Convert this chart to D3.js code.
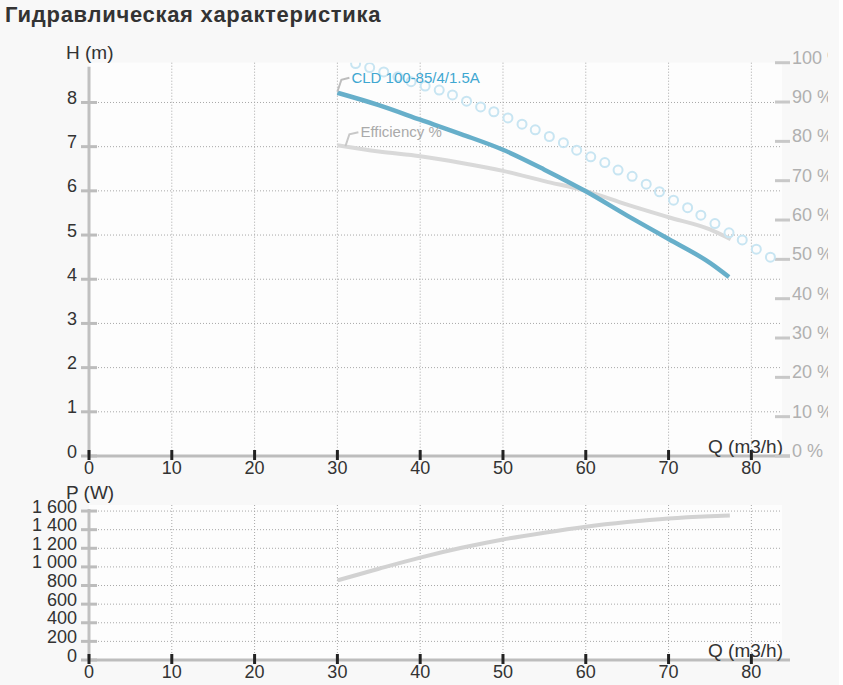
<!DOCTYPE html>
<html>
<head>
<meta charset="utf-8">
<script src="https://cdn.jsdelivr.net/npm/d3@7/dist/d3.min.js"></script>
<style>
  body { margin: 0; background: #ffffff; }
  svg { display: block; font-family: "Liberation Sans", Arial, sans-serif; }
</style>
</head>
<body>
<svg width="843" height="685"></svg>
<script>
(function (d3) {
  'use strict';

  // Pump head curve, H (m) vs Q (m3/h)
  const headFlow = [30, 35, 40, 45, 50, 55, 60, 65, 70, 75, 77.3];
  const headValues = [8.22, 7.94, 7.61, 7.28, 6.93, 6.48, 5.99, 5.44, 4.91, 4.37, 4.05];

  // Efficiency curve, % on the right axis
  const effFlow = [30, 35, 40, 45, 50, 55, 60, 65, 70, 75, 77.5];
  const effValues = [79.0, 77.4, 76.2, 74.5, 72.5, 69.9, 67.4, 63.9, 60.7, 57.6, 55.1];

  // Light blue circle markers (H scale)
  const circleFlow = [32.2, 33.9, 35.6, 37.3, 38.9, 40.6, 42.3, 43.9, 45.6, 47.3, 48.9,
    50.6, 52.3, 53.9, 55.6, 57.3, 58.9, 60.6, 62.3, 63.9, 65.6, 67.3, 68.9, 70.6,
    72.3, 73.9, 75.6, 77.3, 78.9, 80.6, 82.3];
  const circleValues = [8.88, 8.79, 8.69, 8.58, 8.47, 8.37, 8.28, 8.17, 8.03, 7.90, 7.79,
    7.65, 7.51, 7.38, 7.23, 7.09, 6.92, 6.77, 6.64, 6.47, 6.33, 6.15, 5.98, 5.79,
    5.62, 5.45, 5.26, 5.05, 4.89, 4.68, 4.50];

  // Power curve, P (W)
  const powerFlow = [30, 35, 40, 45, 50, 55, 60, 65, 70, 75, 77.4];
  const powerValues = [855, 980, 1100, 1205, 1295, 1368, 1432, 1482, 1521, 1545, 1553];

  // Tick values
  const flowTicks = [0, 10, 20, 30, 40, 50, 60, 70, 80];
  const headTicks = [0, 1, 2, 3, 4, 5, 6, 7, 8];
  const effTicks = [0, 10, 20, 30, 40, 50, 60, 70, 80, 90, 100];
  const powerTicks = [0, 200, 400, 600, 800, 1000, 1200, 1400, 1600];

  const title = 'Гидравлическая характеристика';
  const pumpName = 'CLD 100-85/4/1.5A';
  const effName = 'Efficiency %';

  const svg = d3.select('svg');
  const fmtPower = d3.formatLocale({ decimal: ',', thousands: '\u00a0', grouping: [3], currency: ['', ''] }).format(',d');

  // Layout
  const left = 89, right = 782;
  const top1 = 62.7, bottom1 = 456;
  const top2 = 505, bottom2 = 660;

  const x = d3.scaleLinear().domain([0, 83.7]).range([left, right]);
  const yH = d3.scaleLinear().domain([0, 8.9]).range([bottom1, top1]);
  const yEff = d3.scaleLinear().domain([0, 100]).range([bottom1, top1]);
  const yP = d3.scaleLinear().domain([0, 1665]).range([bottom2, top2]);

  // Backgrounds
  svg.append('rect').attr('x', 0).attr('y', 0).attr('width', 839).attr('height', 685).attr('fill', '#f8f8f8');
  svg.append('rect').attr('x', left).attr('y', top1).attr('width', right - left).attr('height', bottom1 - top1).attr('fill', '#fdfdfd');
  svg.append('rect').attr('x', left).attr('y', top2).attr('width', right - left).attr('height', bottom2 - top2).attr('fill', '#fdfdfd');

  // Title
  svg.append('text')
    .attr('x', 5).attr('y', 22)
    .attr('font-size', 22).attr('font-weight', 'bold').attr('fill', '#333')
    .attr('letter-spacing', 0.7)
    .text(title);

  const defs = svg.append('defs');
  defs.append('clipPath').attr('id', 'clip1')
    .append('rect').attr('x', left).attr('y', top1).attr('width', right - left).attr('height', bottom1 - top1);
  defs.append('clipPath').attr('id', 'clipRight')
    .append('rect').attr('x', 700).attr('y', 40).attr('width', 128).attr('height', 440);

  // Draw one panel: grid, axes and labels
  const drawPanel = (g, props) => {
    const { yScale, yTicks, yFormat, top, bottom, yTitle, yTitleY } = props;

    // grid
    g.selectAll('.hgrid').data(yTicks.filter(d => d > 0)).enter()
      .append('line').attr('class', 'hgrid')
      .attr('x1', left).attr('x2', right)
      .attr('y1', d => yScale(d)).attr('y2', d => yScale(d))
      .attr('stroke', '#a8a8a8').attr('stroke-dasharray', '1,2');
    g.selectAll('.vgrid').data(flowTicks.filter(d => d > 0)).enter()
      .append('line').attr('class', 'vgrid')
      .attr('x1', d => x(d)).attr('x2', d => x(d))
      .attr('y1', top).attr('y2', bottom)
      .attr('stroke', '#a8a8a8').attr('stroke-dasharray', '1,2');

    // y axis
    g.append('line')
      .attr('x1', left).attr('x2', left).attr('y1', top + 4).attr('y2', bottom)
      .attr('stroke', '#c0c0c0').attr('stroke-width', 3);
    const yt = g.selectAll('.ytick').data(yTicks).enter().append('g').attr('class', 'ytick')
      .attr('transform', d => `translate(0,${yScale(d)})`);
    yt.append('line').attr('x1', 81).attr('x2', 97).attr('stroke', '#bdbdbd').attr('stroke-width', 3);
    yt.append('text').attr('x', 77).attr('y', 1.5).attr('text-anchor', 'end')
      .attr('font-size', 18).attr('fill', '#333').text(yFormat);

    // x axis
    g.append('line')
      .attr('x1', left).attr('x2', 790).attr('y1', bottom).attr('y2', bottom)
      .attr('stroke', '#bdbdbd').attr('stroke-width', 3);
    const xt = g.selectAll('.xtick').data(flowTicks).enter().append('g').attr('class', 'xtick')
      .attr('transform', d => `translate(${x(d)},${bottom})`);
    xt.append('line').attr('y1', -6).attr('y2', 4).attr('stroke', '#222').attr('stroke-width', 3);
    xt.append('text').attr('y', 18).attr('text-anchor', 'middle')
      .attr('font-size', 18).attr('fill', '#333').text(d => d);

    // axis titles
    g.append('text').attr('x', 783).attr('y', bottom - 3).attr('text-anchor', 'end')
      .attr('font-size', 19).attr('fill', '#333').text('Q (m3/h)');
    g.append('text').attr('x', 66).attr('y', yTitleY)
      .attr('font-size', 19).attr('fill', '#333').text(yTitle);
  };

  const upperG = svg.append('g');
  const lowerG = svg.append('g');

  drawPanel(upperG, {
    yScale: yH, yTicks: headTicks, yFormat: d => d,
    top: top1, bottom: bottom1, yTitle: 'H (m)', yTitleY: 59
  });
  drawPanel(lowerG, {
    yScale: yP, yTicks: powerTicks, yFormat: fmtPower,
    top: top2, bottom: bottom2, yTitle: 'P (W)', yTitleY: 499
  });

  // Right efficiency axis
  const rightG = svg.append('g').attr('clip-path', 'url(#clipRight)');
  const rt = rightG.selectAll('.rtick').data(effTicks).enter().append('g')
    .attr('transform', d => `translate(0,${yEff(d)})`);
  rt.append('line').attr('x1', 775).attr('x2', 790).attr('stroke', '#c8c8c8').attr('stroke-width', 3);
  rt.append('text').attr('x', 792).attr('y', 1)
    .attr('font-size', 18).attr('fill', '#b0b0b0').text(d => d + ' %');

  // Curves in the upper panel
  const plot1 = svg.append('g').attr('clip-path', 'url(#clip1)');

  const effLine = d3.line().x(i => x(effFlow[i])).y(i => yEff(effValues[i])).curve(d3.curveMonotoneX);
  plot1.append('path')
    .attr('d', effLine(d3.range(effFlow.length)))
    .attr('fill', 'none').attr('stroke', '#d9d9d9').attr('stroke-width', 4);

  plot1.selectAll('circle').data(d3.range(circleFlow.length)).enter()
    .append('circle')
    .attr('cx', i => x(circleFlow[i]))
    .attr('cy', i => yH(circleValues[i]))
    .attr('r', 4.5)
    .attr('fill', 'none').attr('stroke', '#c8e5f2').attr('stroke-width', 2);

  const headLine = d3.line().x(i => x(headFlow[i])).y(i => yH(headValues[i])).curve(d3.curveMonotoneX);
  plot1.append('path')
    .attr('d', headLine(d3.range(headFlow.length)))
    .attr('fill', 'none').attr('stroke', '#67afca').attr('stroke-width', 4.5);

  // Power curve in the lower panel
  const powerLine = d3.line().x(i => x(powerFlow[i])).y(i => yP(powerValues[i])).curve(d3.curveMonotoneX);
  svg.append('path')
    .attr('d', powerLine(d3.range(powerFlow.length)))
    .attr('fill', 'none').attr('stroke', '#d2d2d2').attr('stroke-width', 4);

  // Series labels with small leader lines
  const hx = x(headFlow[0]), hy = yH(headValues[0]);
  svg.append('path')
    .attr('d', `M${hx},${hy - 1} L${hx + 4},${hy - 13} L${hx + 12},${hy - 15}`)
    .attr('fill', 'none').attr('stroke', '#bdbdbd').attr('stroke-width', 2);
  svg.append('text').attr('x', hx + 14).attr('y', hy - 10)
    .attr('font-size', 15).attr('fill', '#3fa7d1').text(pumpName);

  const ex = x(effFlow[0]) + 8, ey = yEff(effValues[0]) + 1;
  svg.append('path')
    .attr('d', `M${ex},${ey} L${ex + 4},${ey - 12} L${ex + 13},${ey - 14}`)
    .attr('fill', 'none').attr('stroke', '#c8c8c8').attr('stroke-width', 2);
  svg.append('text').attr('x', ex + 15).attr('y', ey - 9)
    .attr('font-size', 15).attr('fill', '#aaaaaa').text(effName);

}(d3));
</script>
</body>
</html>
